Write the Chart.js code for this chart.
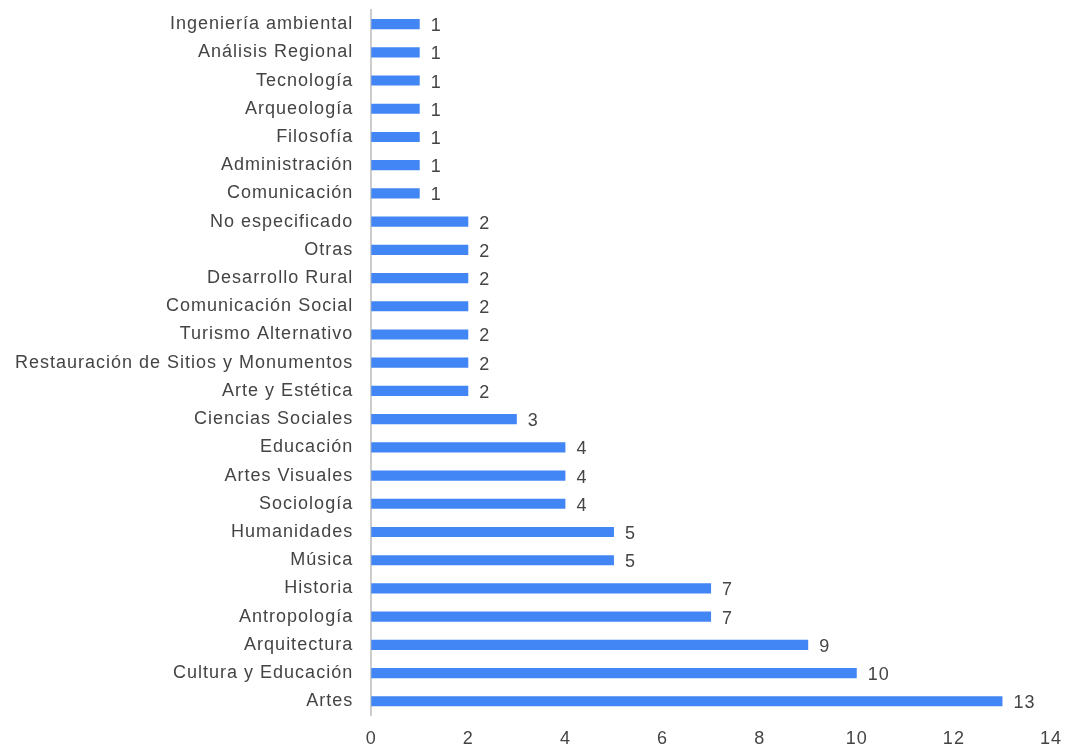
<!DOCTYPE html>
<html>
<head>
<meta charset="utf-8">
<script src="https://cdn.jsdelivr.net/npm/chart.js@4"></script>
<style>
  html, body { margin: 0; padding: 0; background: #fff; }
  #wrap { width: 1065px; height: 746px; }
</style>
</head>
<body>
<div id="wrap"><canvas id="myChart"></canvas></div>
<script>
let labels = ['Ingeniería ambiental', 'Análisis Regional', 'Tecnología', 'Arqueología', 'Filosofía',
  'Administración', 'Comunicación', 'No especificado', 'Otras', 'Desarrollo Rural',
  'Comunicación Social', 'Turismo Alternativo', 'Restauración de Sitios y Monumentos',
  'Arte y Estética', 'Ciencias Sociales', 'Educación', 'Artes Visuales', 'Sociología',
  'Humanidades', 'Música', 'Historia', 'Antropología', 'Arquitectura', 'Cultura y Educación', 'Artes'];
let data = [1, 1, 1, 1, 1, 1, 1, 2, 2, 2, 2, 2, 2, 2, 3, 4, 4, 4, 5, 5, 7, 7, 9, 10, 13];
let xTicks = [0, 2, 4, 6, 8, 10, 12, 14];

const FONT = '"Liberation Sans", Arial, sans-serif';

// the reference text is a little wider than plain Arial
let spacing = {
  id: 'spacing',
  beforeLayout(chart) { chart.ctx.letterSpacing = '1px'; },
  beforeDraw(chart) { chart.ctx.letterSpacing = '1px'; }
};

let barLabels = {
  id: 'barLabels',
  afterDatasetsDraw(chart) {
    let ctx = chart.ctx;
    let meta = chart.getDatasetMeta(0);
    ctx.save();
    ctx.letterSpacing = '1px';
    ctx.font = '18px ' + FONT;
    ctx.fillStyle = '#444';
    ctx.textAlign = 'left';
    ctx.textBaseline = 'middle';
    meta.data.forEach((bar, i) => {
      ctx.fillText(String(data[i]), bar.x + 11, bar.y + 2);
    });
    ctx.restore();
  }
};

let myChart = document.getElementById('myChart').getContext('2d');

let chart = new Chart(myChart, {
  type: 'bar',
  data: {
    labels: labels,
    datasets: [{
      data: data,
      backgroundColor: '#4285F4',
      categoryPercentage: 1,
      barPercentage: 0.36
    }]
  },
  options: {
    indexAxis: 'y',
    responsive: true,
    maintainAspectRatio: false,
    animation: false,
    layout: { padding: { top: 10, right: 14, bottom: -17, left: -3 } },
    plugins: {
      legend: { display: false },
      tooltip: { enabled: false }
    },
    scales: {
      x: {
        min: 0,
        max: 14,
        afterBuildTicks: (axis) => { axis.ticks = xTicks.map(v => ({ value: v })); },
        afterFit: (s) => { s.paddingLeft = 0; s.paddingRight = 0; },
        grid: { display: false, drawTicks: false },
        border: { display: false },
        ticks: {
          padding: 13,
          color: '#444',
          font: { family: FONT, size: 18 }
        }
      },
      y: {
        afterFit: (s) => { s.paddingTop = 0; s.paddingBottom = 0; },
        grid: { display: false, drawTicks: false },
        border: { display: true, color: '#cccccc', width: 2 },
        ticks: {
          padding: 18,
          autoSkip: false,
          color: '#444',
          font: { family: FONT, size: 18 }
        }
      }
    }
  },
  plugins: [spacing, barLabels]
});
</script>
</body>
</html>
